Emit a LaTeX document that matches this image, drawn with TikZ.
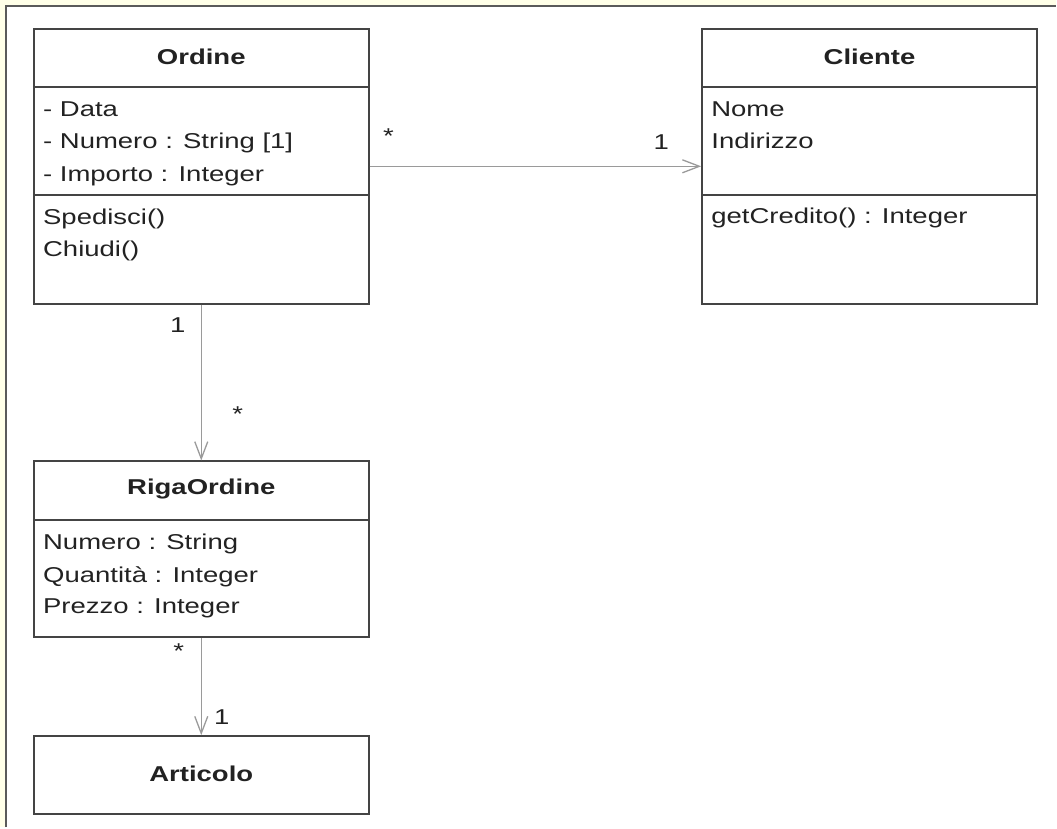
\documentclass[tikz,border=0pt]{standalone}
\usepackage{fontspec}
\setmainfont{Liberation Sans}[FakeStretch=1.28]
\usetikzlibrary{arrows.meta}
\definecolor{paper}{HTML}{FFFFE8}
\definecolor{framegray}{HTML}{5A5A5A}
\definecolor{boxline}{HTML}{444444}
\definecolor{linkgray}{HTML}{9A9A9A}
\definecolor{ink}{HTML}{222222}
\tikzset{
  classbox/.style={draw=boxline, line width=2pt, fill=white, rectangle, inner sep=0pt, minimum width=335pt},
  divider/.style={draw=boxline, line width=2pt},
  title/.style={font=\fontsize{21.5}{26}\selectfont\bfseries, text=ink, inner sep=0pt, anchor=base},
  member/.style={font=\fontsize{21.5}{26}\selectfont, text=ink, inner sep=0pt, anchor=base west},
  mult/.style={font=\fontsize{21.5}{26}\selectfont, text=ink, inner sep=0pt, anchor=center},
  assoc/.style={draw=linkgray, line width=1.5pt, -{Straight Barb[length=17pt,width=13pt,line width=1.3pt]}},
}
\begin{document}
\begin{tikzpicture}[x=1pt,y=-1pt]
  % page background and frame
  \fill[paper] (0,0) rectangle (1057,828);
  \fill[white] (6,6) rectangle (1057,828);
  \draw[framegray, line width=2.5pt] (6,828) -- (6,6) -- (1057,6);
  \useasboundingbox (0,0) rectangle (1057,828);

  % classes
  \node[classbox, minimum height=275pt] (ordine) at (201.5,166.5) {};
  \node[classbox, minimum height=275pt] (cliente) at (870.5,166.5) {};
  \node[classbox, minimum height=176pt] (riga) at (201.5,550) {};
  \node[classbox, minimum height=78pt] (articolo) at (201.5,776) {};

  % compartments
  \draw[divider] (ordine.west |- 0,87) -- (ordine.east |- 0,87);
  \draw[divider] (ordine.west |- 0,195) -- (ordine.east |- 0,195);
  \draw[divider] (cliente.west |- 0,87) -- (cliente.east |- 0,87);
  \draw[divider] (cliente.west |- 0,195) -- (cliente.east |- 0,195);
  \draw[divider] (riga.west |- 0,521) -- (riga.east |- 0,521);

  % Ordine
  \node[title] (ordineT) at (201.5,65) {Ordine};
  \node[member] (o1) at (43,117) {- Data};
  \node[member] (o2) at (43,149) {- Numero : String [1]};
  \node[member] (o3) at (43,182) {- Importo : Integer};
  \node[member] (o4) at (43,225) {Spedisci()};
  \node[member] (o5) at (43,257) {Chiudi()};

  % Cliente
  \node[title] (clienteT) at (870.5,65) {Cliente};
  \node[member] (c1) at (712,117) {Nome};
  \node[member] (c2) at (712,149) {Indirizzo};
  \node[member] (c3) at (712,224) {getCredito() : Integer};

  % RigaOrdine
  \node[title] (rigaT) at (201.5,495) {RigaOrdine};
  \node[member] (r1) at (43,550) {Numero : String};
  \node[member] (r2) at (43,583) {Quantità : Integer};
  \node[member] (r3) at (43,614) {Prezzo : Integer};

  % Articolo
  \node[title] (articoloT) at (201.5,782) {Articolo};

  % associations
  \draw[assoc] (ordine.east) -- (cliente.west);
  \draw[assoc] (ordine.south) -- (riga.north);
  \draw[assoc] (riga.south) -- (articolo.north);

  % multiplicities
  \node[mult] (m1) at (389,136) {*};
  \node[mult] (m2) at (662,142) {1};
  \node[mult] (m3) at (178,325) {1};
  \node[mult] (m4) at (238,415) {*};
  \node[mult] (m5) at (179,652) {*};
  \node[mult] (m6) at (222,718) {1};
\end{tikzpicture}
\end{document}
